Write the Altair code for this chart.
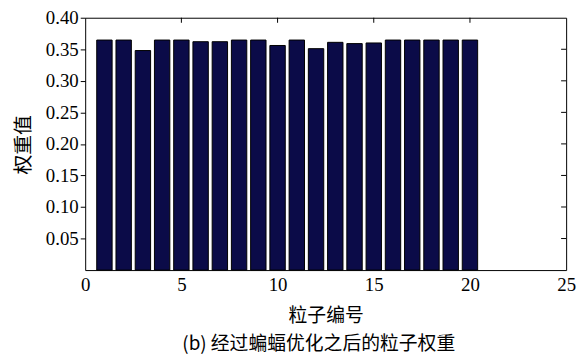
import altair as alt
import pandas as pd

particles = list(range(1, 21))
weights = [0.3646, 0.3646, 0.348, 0.3646, 0.3646, 0.362, 0.362, 0.3646, 0.3646, 0.356,
           0.3646, 0.351, 0.361, 0.359, 0.360, 0.3646, 0.3646, 0.3646, 0.3646, 0.3646]
x_tick_values = [0, 5, 10, 15, 20, 25]
y_tick_values = [0.05, 0.10, 0.15, 0.20, 0.25, 0.30, 0.35, 0.40]
inner_x_ticks = [5, 10, 15, 20]
inner_y_ticks = [0.05, 0.10, 0.15, 0.20, 0.25, 0.30, 0.35]

half_w = 0.4
df = pd.DataFrame({"p": particles, "w": weights})
df["x0"] = df["p"] - half_w
df["x1"] = df["p"] + half_w
df["base"] = 0.0

XMAX, YMAX = 25, 0.40
xs = alt.Scale(domain=[0, XMAX], nice=False, zero=False)
ys = alt.Scale(domain=[0, YMAX], nice=False)

serif = "Liberation Serif"
cjk = "Noto Sans CJK SC"

bars = alt.Chart(df).mark_bar(color="#0b0b48", stroke="#000000", strokeWidth=1).encode(
    x=alt.X("x0:Q", scale=xs, title="粒子编号",
            axis=alt.Axis(values=x_tick_values, format="d", tickCount=30)),
    x2="x1:Q",
    y=alt.Y("w:Q", scale=ys, title="权重值",
            axis=alt.Axis(values=y_tick_values, format=".2f", tickCount=30)),
    y2="base:Q",
)

tx = XMAX * 0.0105
ty = YMAX * 0.02
right_df = pd.DataFrame({"y": inner_y_ticks})
right_df["xa"] = XMAX - tx
right_df["xb"] = XMAX
top_df = pd.DataFrame({"x": inner_x_ticks})
top_df["ya"] = YMAX - ty
top_df["yb"] = YMAX

right_ticks = alt.Chart(right_df).mark_rule(color="#000", strokeWidth=1).encode(
    x=alt.X("xa:Q", scale=xs), x2="xb:Q",
    y=alt.Y("y:Q", scale=ys))
top_ticks = alt.Chart(top_df).mark_rule(color="#000", strokeWidth=1).encode(
    x=alt.X("x:Q", scale=xs),
    y=alt.Y("ya:Q", scale=ys), y2="yb:Q")

chart = alt.layer(bars, right_ticks, top_ticks).properties(
    width=486, height=255,
    autosize=alt.AutoSizeParams(type="none"),
    padding={"left": 78, "top": 8, "right": 14, "bottom": 86},
    title=alt.TitleParams("(b) 经过蝙蝠优化之后的粒子权重", orient="bottom",
                          font=cjk, fontSize=19, fontWeight="normal", color="#000",
                          offset=10, dx=-7),
    background="white",
).configure_view(stroke="#000", strokeWidth=1
).configure_axis(
    grid=False, domain=False, labelOverlap=False, labelFont=serif, labelFontSize=19,
    labelColor="#000", titleFont=cjk, titleFontWeight="normal", titleColor="#000",
    labelBound=False, labelFlush=False,
).configure_axisX(
    ticks=False, labelPadding=6, titleFontSize=19, titlePadding=12, labelFont=serif,
).configure_axisY(
    ticks=True, tickSize=5, tickColor="#000", labelPadding=2, labelFont=serif,
    titleFontSize=20, titleX=-62, titleY=128, titleAngle=270,
    titleAlign="center", titleBaseline="middle",
)

chart.save("out.html", embed_options={"renderer": "svg", "actions": False})
